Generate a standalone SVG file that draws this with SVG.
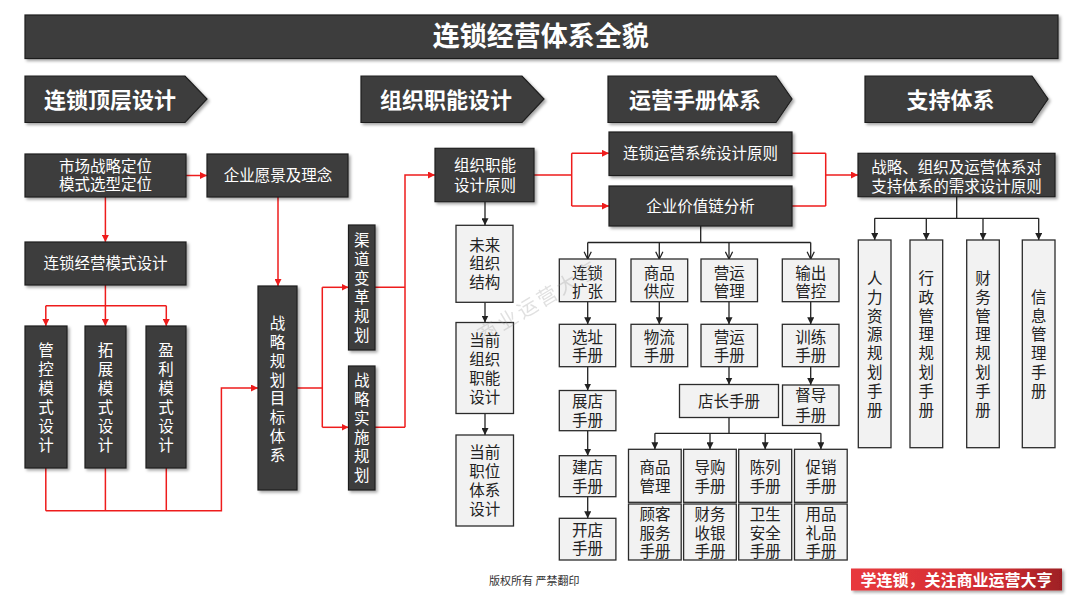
<svg xmlns="http://www.w3.org/2000/svg" width="1080" height="608" viewBox="0 0 1080 608">
<defs>
<filter id="sh" x="-20%" y="-20%" width="140%" height="140%"><feDropShadow dx="2" dy="2" stdDeviation="1.5" flood-color="#000" flood-opacity="0.35"/></filter>
<marker id="ar" viewBox="0 0 10 10" refX="10" refY="5" markerWidth="7" markerHeight="7" markerUnits="userSpaceOnUse" orient="auto"><path d="M0,0 L10,5 L0,10 z" fill="#ee1c1c"/></marker>
<marker id="ab" viewBox="0 0 10 10" refX="10" refY="5" markerWidth="7" markerHeight="7" markerUnits="userSpaceOnUse" orient="auto"><path d="M0,0 L10,5 L0,10 z" fill="#222"/></marker>
<marker id="av" viewBox="0 0 10 10" refX="9" refY="5" markerWidth="9" markerHeight="9" markerUnits="userSpaceOnUse" orient="auto"><path d="M1,1 L9,5 L1,9" fill="none" stroke="#222" stroke-width="1.4"/></marker>
<linearGradient id="rg" x1="0" y1="0" x2="1" y2="0"><stop offset="0" stop-color="#e8393d"/><stop offset="0.7" stop-color="#cf2c31"/><stop offset="1" stop-color="#9e1f24"/></linearGradient>
</defs>
<style>
.d{fill:#3d3d3d;stroke:#1e1e1e;stroke-width:1.2}
.l{fill:#f2f2f2;stroke:#2b2b2b;stroke-width:1.3}
text{font-family:"Noto Sans CJK SC","Noto Sans CJK TC",sans-serif;text-anchor:middle}
.tw{fill:#fff;font-size:15.5px}
.tk{fill:#222;font-size:15.5px}
.v{writing-mode:vertical-rl;text-orientation:upright}
.v19{letter-spacing:3.5px}
.v188{letter-spacing:3.3px}
.h{fill:#fff;font-size:22px;font-weight:bold}
.r{stroke:#ee1c1c;stroke-width:1.5;fill:none}
.k{stroke:#222;stroke-width:1.3;fill:none}
</style>
<rect width="1080" height="608" fill="#fff"/>

<g id="title">
<rect x="25" y="15" width="1033" height="43.5" class="d" filter="url(#sh)"/>
<text x="540.8" y="46" fill="#fff" style="font-size:27px;font-weight:bold">连锁经营体系全貌</text>
</g>

<g id="headers">
<g id="h1"><polygon points="25,76 185,76 207,99 185,122.5 25,122.5" class="d" filter="url(#sh)"/><text x="110" y="107.6" class="h">连锁顶层设计</text></g>
<g id="h2"><polygon points="361,76 522,76 544,99 522,122.5 361,122.5" class="d" filter="url(#sh)"/><text x="446" y="107.6" class="h">组织职能设计</text></g>
<g id="h3"><polygon points="608,76 776,76 792,99 776,122.5 608,122.5" class="d" filter="url(#sh)"/><text x="695" y="107.6" class="h">运营手册体系</text></g>
<g id="h4"><polygon points="865,76 1032,76 1048,99 1032,122.5 865,122.5" class="d" filter="url(#sh)"/><text x="950.5" y="107.6" class="h">支持体系</text></g>
</g>

<g id="connectors">
<path class="r" d="M105.4,197 V242" marker-end="url(#ar)"/>
<path class="r" d="M186,175.5 H207" marker-end="url(#ar)"/>
<path class="r" d="M278,197 V286" marker-end="url(#ar)"/>
<path class="r" d="M105.4,285 V326" marker-end="url(#ar)"/>
<path class="r" d="M45.8,305.7 H166.3"/>
<path class="r" d="M45.8,305.7 V326" marker-end="url(#ar)"/>
<path class="r" d="M166.3,305.7 V326" marker-end="url(#ar)"/>
<path class="r" d="M45.8,468 V510.7 M105.4,468 V510.7 M166.3,468 V510.7"/>
<path class="r" d="M45.8,510.7 H221.4 V388 H258" marker-end="url(#ar)"/>
<path class="r" d="M297,388 H322.3 M322.3,287.3 V427.3"/>
<path class="r" d="M322.3,287.3 H348.5" marker-end="url(#ar)"/>
<path class="r" d="M322.3,427.3 H348.5" marker-end="url(#ar)"/>
<path class="r" d="M375,287.3 H405 M375,427.3 H405"/>
<path class="r" d="M405,427.3 V175 H435" marker-end="url(#ar)"/>
<path class="r" d="M534,175 H571.7 M571.7,153.3 V206"/>
<path class="r" d="M571.7,153.3 H609" marker-end="url(#ar)"/>
<path class="r" d="M571.7,206 H609" marker-end="url(#ar)"/>
<path class="r" d="M792,153.3 H825.7 M792,206 H825.7 M825.7,153.3 V206"/>
<path class="r" d="M825.7,175 H858" marker-end="url(#ar)"/>
<path class="k" d="M485,201.7 V225.3" marker-end="url(#ab)"/>
<path class="k" d="M485,302.3 V322.5" marker-end="url(#ab)"/>
<path class="k" d="M485,413.5 V435" marker-end="url(#ab)"/>
<path class="k" d="M700.7,226 V242.5 M587.7,242.5 H810.7"/>
<path class="k" d="M587.7,242.5 V259" marker-end="url(#av)"/>
<path class="k" d="M659.3,242.5 V259" marker-end="url(#av)"/>
<path class="k" d="M729,242.5 V259" marker-end="url(#av)"/>
<path class="k" d="M810.7,242.5 V259" marker-end="url(#av)"/>
<path class="k" d="M587.7,301.7 V324.3" marker-end="url(#ab)"/>
<path class="k" d="M659.3,301.7 V324.3" marker-end="url(#ab)"/>
<path class="k" d="M729,301.7 V324.3" marker-end="url(#ab)"/>
<path class="k" d="M810.7,301.7 V324.3" marker-end="url(#ab)"/>
<path class="k" d="M587.7,366.7 V390.5" marker-end="url(#ab)"/>
<path class="k" d="M587.7,430.7 V455.7" marker-end="url(#ab)"/>
<path class="k" d="M587.7,496.7 V518.3" marker-end="url(#ab)"/>
<path class="k" d="M729,366.7 V384.5" marker-end="url(#ab)"/>
<path class="k" d="M810.7,366.7 V385" marker-end="url(#ab)"/>
<path class="k" d="M729,417.5 V433.3 M654.9,433.3 H820.9"/>
<path class="k" d="M654.9,433.3 V449.3" marker-end="url(#ab)"/>
<path class="k" d="M710,433.3 V449.3" marker-end="url(#ab)"/>
<path class="k" d="M765.2,433.3 V449.3" marker-end="url(#ab)"/>
<path class="k" d="M820.9,433.3 V449.3" marker-end="url(#ab)"/>
<path class="k" d="M956.7,196.7 V218.3 M874.7,218.3 H1038.7"/>
<path class="k" d="M874.7,218.3 V240" marker-end="url(#ab)"/>
<path class="k" d="M926.3,218.3 V240" marker-end="url(#ab)"/>
<path class="k" d="M983,218.3 V240" marker-end="url(#ab)"/>
<path class="k" d="M1038.7,218.3 V240" marker-end="url(#ab)"/>
</g>

<g id="n-market"><rect x="25" y="154" width="161" height="43" class="d" filter="url(#sh)"/><text class="tw" x="105.5"><tspan x="105.5" y="171.6">市场战略定位</tspan><tspan x="105.5" y="190.2">模式选型定位</tspan></text></g>
<g id="n-vision"><rect x="207" y="154" width="141" height="43" class="d" filter="url(#sh)"/><text class="tw" x="278" y="181.4">企业愿景及理念</text></g>
<g id="n-model"><rect x="25" y="242" width="161" height="43" class="d" filter="url(#sh)"/><text class="tw" x="105.5" y="269.2">连锁经营模式设计</text></g>
<g id="n-control"><rect x="25" y="326" width="42" height="142" class="d" filter="url(#sh)"/><text class="tw v v19" x="46" y="399.2">管控模式设计</text></g>
<g id="n-expand"><rect x="85" y="326" width="41" height="142" class="d" filter="url(#sh)"/><text class="tw v v19" x="105.5" y="399.2">拓展模式设计</text></g>
<g id="n-profit"><rect x="146" y="326" width="40" height="142" class="d" filter="url(#sh)"/><text class="tw v v19" x="166" y="399.2">盈利模式设计</text></g>
<g id="n-goal"><rect x="258" y="286" width="39" height="204" class="d" filter="url(#sh)"/><text class="tw v v188" x="277.5" y="390.8">战略规划目标体系</text></g>
<g id="n-channel"><rect x="348.5" y="225" width="26.5" height="125" class="d" filter="url(#sh)"/><text class="tw v v19" x="361.7" y="289.2">渠道变革规划</text></g>
<g id="n-impl"><rect x="348.5" y="366" width="26.5" height="124" class="d" filter="url(#sh)"/><text class="tw v v19" x="361.7" y="429.2">战略实施规划</text></g>

<g id="n-orgprin"><rect x="435" y="148.3" width="99" height="53.4" class="d" filter="url(#sh)"/><text class="tw"><tspan x="485" y="170.9">组织职能</tspan><tspan x="485" y="190.9">设计原则</tspan></text></g>
<g id="n-future"><rect x="456" y="225.3" width="57" height="77" class="l"/><text class="tk"><tspan x="484.7" y="250.9">未来</tspan><tspan x="484.7" y="269.4">组织</tspan><tspan x="484.7" y="287.9">结构</tspan></text></g>
<g id="n-curorg"><rect x="456" y="322.5" width="57.5" height="91" class="l"/><text class="tk"><tspan x="484.7" y="345.9">当前</tspan><tspan x="484.7" y="364.9">组织</tspan><tspan x="484.7" y="383.9">职能</tspan><tspan x="484.7" y="402.9">设计</tspan></text></g>
<g id="n-curpos"><rect x="456" y="435" width="57.5" height="91" class="l"/><text class="tk"><tspan x="484.7" y="458.2">当前</tspan><tspan x="484.7" y="477.2">职位</tspan><tspan x="484.7" y="496.2">体系</tspan><tspan x="484.7" y="515.2">设计</tspan></text></g>

<g id="n-opprin"><rect x="609" y="132" width="183" height="43.5" class="d" filter="url(#sh)"/><text class="tw" x="700.5" y="159.2">连锁运营系统设计原则</text></g>
<g id="n-value"><rect x="609" y="186" width="183" height="40" class="d" filter="url(#sh)"/><text class="tw" x="700.5" y="211.9">企业价值链分析</text></g>

<g id="n-chainexp"><rect x="559.3" y="259" width="56.4" height="42.7" class="l"/><text class="tk"><tspan x="587.5" y="279.2">连锁</tspan><tspan x="587.5" y="297">扩张</tspan></text></g>
<g id="n-supply"><rect x="631" y="259" width="56.7" height="42.7" class="l"/><text class="tk"><tspan x="659.3" y="279.2">商品</tspan><tspan x="659.3" y="297">供应</tspan></text></g>
<g id="n-opmgmt"><rect x="701" y="259" width="56.5" height="42.7" class="l"/><text class="tk"><tspan x="729.2" y="279.2">营运</tspan><tspan x="729.2" y="297">管理</tspan></text></g>
<g id="n-output"><rect x="782.3" y="259" width="56.7" height="42.7" class="l"/><text class="tk"><tspan x="810.7" y="279.2">输出</tspan><tspan x="810.7" y="297">管控</tspan></text></g>

<g id="n-site"><rect x="559.3" y="324.3" width="56.4" height="42.4" class="l"/><text class="tk"><tspan x="587.5" y="343.2">选址</tspan><tspan x="587.5" y="360.9">手册</tspan></text></g>
<g id="n-logis"><rect x="631" y="324.3" width="56.7" height="42.4" class="l"/><text class="tk"><tspan x="659.3" y="343.2">物流</tspan><tspan x="659.3" y="360.9">手册</tspan></text></g>
<g id="n-opman"><rect x="701" y="324.3" width="56.5" height="42.4" class="l"/><text class="tk"><tspan x="729.2" y="343.2">营运</tspan><tspan x="729.2" y="360.9">手册</tspan></text></g>
<g id="n-train"><rect x="782.3" y="324.3" width="56.7" height="42.4" class="l"/><text class="tk"><tspan x="810.7" y="343.2">训练</tspan><tspan x="810.7" y="360.9">手册</tspan></text></g>

<g id="n-show"><rect x="559.3" y="390.5" width="56.6" height="40.2" class="l"/><text class="tk"><tspan x="587.6" y="407.4">展店</tspan><tspan x="587.6" y="426.4">手册</tspan></text></g>
<g id="n-build"><rect x="559.3" y="455.7" width="56.6" height="41" class="l"/><text class="tk"><tspan x="587.6" y="472.9">建店</tspan><tspan x="587.6" y="491.9">手册</tspan></text></g>
<g id="n-open"><rect x="559.3" y="518.3" width="56.6" height="41.7" class="l"/><text class="tk"><tspan x="587.6" y="535.9">开店</tspan><tspan x="587.6" y="554.2">手册</tspan></text></g>

<g id="n-manager"><rect x="679.5" y="384.5" width="99" height="33" class="l"/><text class="tk" x="729" y="406.9">店长手册</text></g>
<g id="n-super"><rect x="782.5" y="385" width="56.5" height="40.5" class="l"/><text class="tk"><tspan x="810.7" y="400.9">督导</tspan><tspan x="810.7" y="420.9">手册</tspan></text></g>

<g id="n-goods"><rect x="628.5" y="449.3" width="52.7" height="53" class="l"/><text class="tk"><tspan x="654.9" y="473.2">商品</tspan><tspan x="654.9" y="491.9">管理</tspan></text></g>
<g id="n-guide"><rect x="683.6" y="449.3" width="52.7" height="53" class="l"/><text class="tk"><tspan x="710" y="473.2">导购</tspan><tspan x="710" y="491.9">手册</tspan></text></g>
<g id="n-display"><rect x="738.7" y="449.3" width="53" height="53" class="l"/><text class="tk"><tspan x="765.2" y="473.2">陈列</tspan><tspan x="765.2" y="491.9">手册</tspan></text></g>
<g id="n-promo"><rect x="794.5" y="449.3" width="52.7" height="53" class="l"/><text class="tk"><tspan x="820.9" y="473.2">促销</tspan><tspan x="820.9" y="491.9">手册</tspan></text></g>
<g id="n-cust"><rect x="628.5" y="504" width="52.7" height="56" class="l"/><text class="tk"><tspan x="654.9" y="519.9">顾客</tspan><tspan x="654.9" y="538.6">服务</tspan><tspan x="654.9" y="557.2">手册</tspan></text></g>
<g id="n-cash"><rect x="683.6" y="504" width="52.7" height="56" class="l"/><text class="tk"><tspan x="710" y="519.9">财务</tspan><tspan x="710" y="538.6">收银</tspan><tspan x="710" y="557.2">手册</tspan></text></g>
<g id="n-safe"><rect x="738.7" y="504" width="53" height="56" class="l"/><text class="tk"><tspan x="765.2" y="519.9">卫生</tspan><tspan x="765.2" y="538.6">安全</tspan><tspan x="765.2" y="557.2">手册</tspan></text></g>
<g id="n-gift"><rect x="794.5" y="504" width="52.7" height="56" class="l"/><text class="tk"><tspan x="820.9" y="519.9">用品</tspan><tspan x="820.9" y="538.6">礼品</tspan><tspan x="820.9" y="557.2">手册</tspan></text></g>

<g id="n-supprin"><rect x="858" y="153.3" width="197" height="43.4" class="d" filter="url(#sh)"/><text class="tw"><tspan x="956.5" y="173.2">战略、组织及运营体系对</tspan><tspan x="956.5" y="191.9">支持体系的需求设计原则</tspan></text></g>
<g id="n-hr"><rect x="858.3" y="240" width="32.7" height="207.7" class="l"/><text class="tk v v188" x="874.7" y="345.5">人力资源规划手册</text></g>
<g id="n-admin"><rect x="910" y="240" width="32.7" height="207.7" class="l"/><text class="tk v v188" x="926.3" y="345.5">行政管理规划手册</text></g>
<g id="n-fin"><rect x="966.7" y="240" width="32.6" height="207.7" class="l"/><text class="tk v v188" x="983" y="345.5">财务管理规划手册</text></g>
<g id="n-info"><rect x="1022.3" y="240" width="32.7" height="207.7" class="l"/><text class="tk v v188" x="1038.7" y="345.5">信息管理手册</text></g>

<text transform="translate(483,343) rotate(-31)" x="0" y="0" style="font-size:20px;text-anchor:start;letter-spacing:3px" fill="#888" opacity="0.25">商业运营大亨</text>

<g id="footer">
<text x="489" y="585" style="font-size:11px;text-anchor:start" fill="#333">版权所有 严禁翻印</text>
<rect x="851" y="568.5" width="211" height="22" fill="url(#rg)" filter="url(#sh)"/>
<text x="956.5" y="585.5" fill="#fff" style="font-size:16px;font-weight:bold">学连锁，关注商业运营大亨</text>
</g>
</svg>
